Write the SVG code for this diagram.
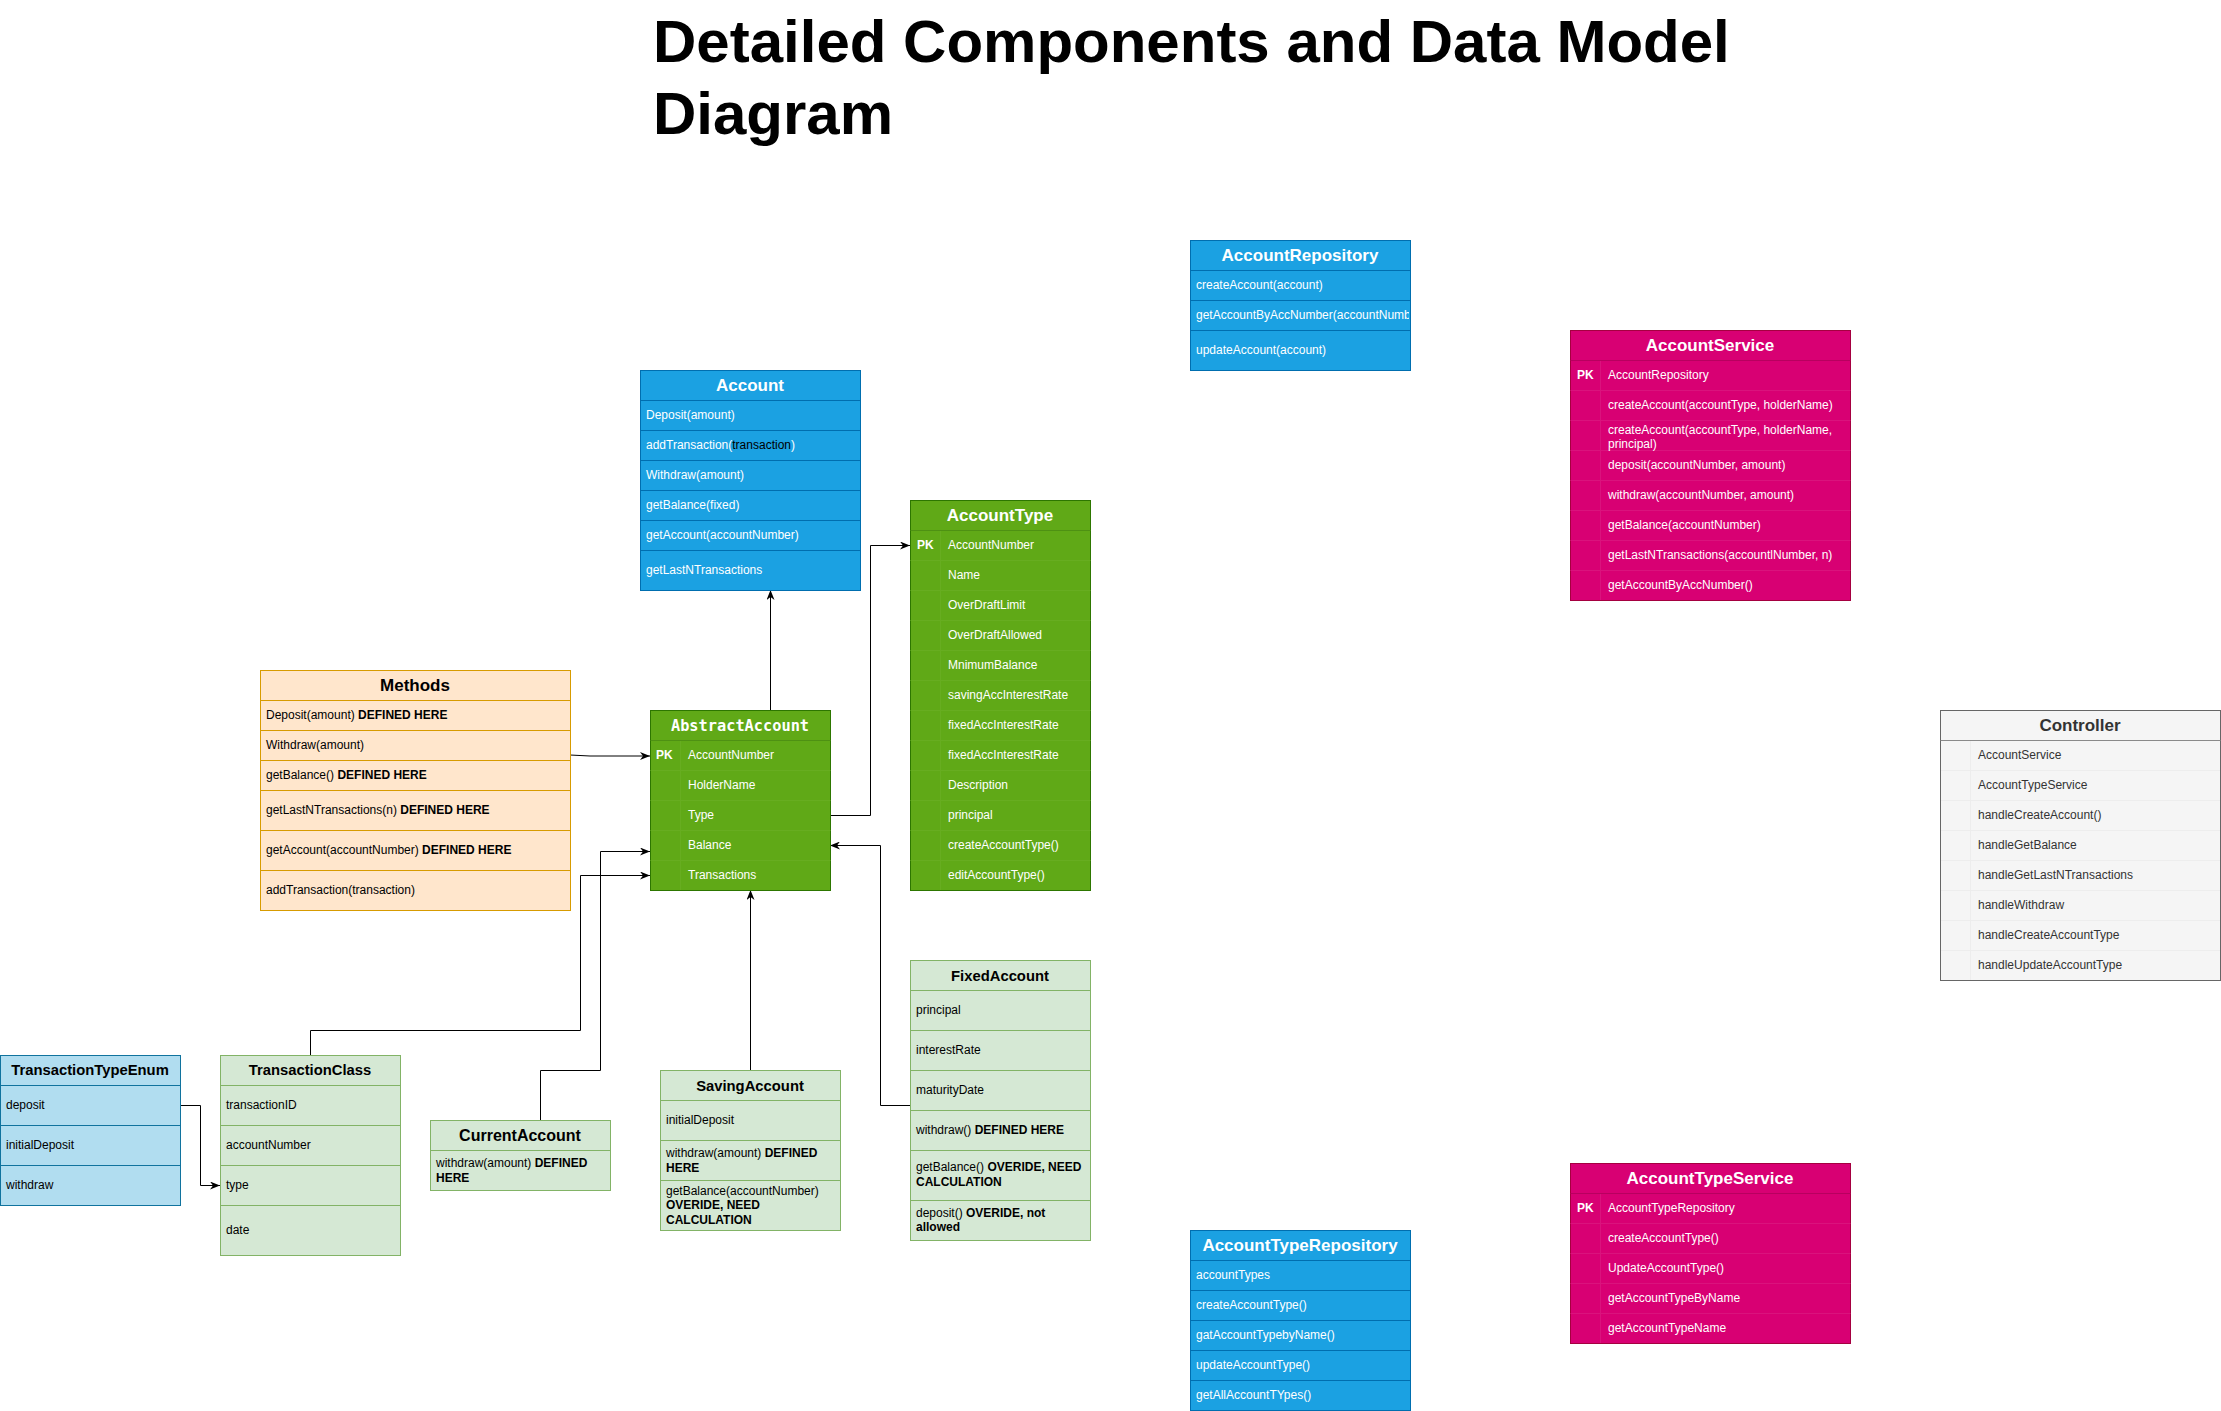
<svg xmlns="http://www.w3.org/2000/svg" width="2221" height="1411" viewBox="0 0 2221 1411">
<style>
text { font-family: "Liberation Sans", Arial, Helvetica, sans-serif; font-size: 12px; }
.w { fill: #ffffff; }
.k { fill: #000000; }
.g3 { fill: #333333; }
.b { font-weight: bold; }
.h17 { font-size: 17px; font-weight: bold; text-anchor: middle; }
.h16 { font-size: 16px; font-weight: bold; text-anchor: middle; }
.h15 { font-size: 14.8px; font-weight: bold; text-anchor: middle; }
.mono { font-family: "DejaVu Sans Mono", "Liberation Mono", monospace; font-size: 15.3px; font-weight: bold; text-anchor: middle; }
.blue { fill: #1ba1e2; stroke: #006eaf; stroke-width: 1; }
.bl { stroke: #006eaf; stroke-width: 1; }
.grn { fill: #60a917; stroke: #2d7600; stroke-width: 1; }
.gl { stroke: #67ad20; stroke-width: 1; }
.gh { stroke: #4e9113; stroke-width: 1; }
.org { fill: #ffe6cc; stroke: #d79b00; stroke-width: 1; }
.ol { stroke: #d79b00; stroke-width: 1; }
.lb { fill: #b1ddf0; stroke: #10739e; stroke-width: 1; }
.lbl { stroke: #10739e; stroke-width: 1; }
.lg { fill: #d5e8d4; stroke: #82b366; stroke-width: 1; }
.lgl { stroke: #82b366; stroke-width: 1; }
.mag { fill: #d80073; stroke: #a50040; stroke-width: 1; }
.ml { stroke: #da137d; stroke-width: 1; }
.mh { stroke: #b8005f; stroke-width: 1; }
.gry { fill: #f5f5f5; stroke: #666666; stroke-width: 1; }
.grl { stroke: #ededed; stroke-width: 1; }
.grh { stroke: #8a8a8a; stroke-width: 1; }
.conn { fill: none; stroke: #000000; stroke-width: 1; marker-end: url(#arr); }
.title { font-family: "Liberation Sans", Arial, Helvetica, sans-serif; font-size: 60px; font-weight: bold; fill: #000; }
</style>
<defs>
<marker id="arr" viewBox="0 0 10 8" refX="10" refY="4" markerWidth="10" markerHeight="8" markerUnits="userSpaceOnUse" orient="auto">
<path d="M0,0 L10,4 L0,8 L3,4 z" fill="#000000"/>
</marker>
<clipPath id="clipRepo"><rect x="1190" y="300" width="219" height="30"/></clipPath>
</defs>
<rect x="0" y="0" width="2221" height="1411" fill="#ffffff"/>

<g id="title">
<text class="title" x="653" y="62">Detailed Components and Data Model</text>
<text class="title" x="653" y="134">Diagram</text>
</g>

<g id="connectors">
<path class="conn" d="M770.5,710 V590"/>
<path class="conn" d="M830,815.5 H870.5 V545.5 H910"/>
<path class="conn" d="M570,755 L590,756 H650"/>
<path class="conn" d="M310.5,1055 V1030.5 H580.5 V875.5 H650"/>
<path class="conn" d="M540.5,1120 V1070.5 H600.5 V851.5 H650"/>
<path class="conn" d="M750.5,1070 V890"/>
<path class="conn" d="M910,1105.5 H880.5 V845.5 H830"/>
<path class="conn" d="M180,1105.5 H200.5 V1185.5 H220"/>
</g>

<g id="Account">
<rect class="blue" x="640.5" y="370.5" width="220" height="220"/>
<path class="bl" d="M640.5,400.5 H860.5 M640.5,430.5 H860.5 M640.5,460.5 H860.5 M640.5,490.5 H860.5 M640.5,520.5 H860.5 M640.5,550.5 H860.5"/>
<text class="h17 w" x="750" y="391">Account</text>
<text class="w" x="646" y="419">Deposit(amount)</text>
<text class="w" x="646" y="449">addTransaction(<tspan fill="#000000">transaction</tspan>)</text>
<text class="w" x="646" y="479">Withdraw(amount)</text>
<text class="w" x="646" y="509">getBalance(fixed)</text>
<text class="w" x="646" y="539">getAccount(accountNumber)</text>
<text class="w" x="646" y="574">getLastNTransactions</text>
</g>

<g id="AccountRepository">
<rect class="blue" x="1190.5" y="240.5" width="220" height="130"/>
<path class="bl" d="M1190.5,270.5 H1410.5 M1190.5,300.5 H1410.5 M1190.5,330.5 H1410.5"/>
<text class="h17 w" x="1300" y="261">AccountRepository</text>
<text class="w" x="1196" y="289">createAccount(account)</text>
<text class="w" x="1196" y="319" clip-path="url(#clipRepo)">getAccountByAccNumber(accountNumber)</text>
<text class="w" x="1196" y="354">updateAccount(account)</text>
</g>

<g id="AccountType">
<rect class="grn" x="910.5" y="500.5" width="180" height="390"/>
<path class="gl" d="M910.5,560.5 H1090.5 M910.5,590.5 H1090.5 M910.5,620.5 H1090.5 M910.5,650.5 H1090.5 M910.5,680.5 H1090.5 M910.5,710.5 H1090.5 M910.5,740.5 H1090.5 M910.5,770.5 H1090.5 M910.5,800.5 H1090.5 M910.5,830.5 H1090.5 M910.5,860.5 H1090.5 M940.5,531 V890"/>
<path class="gh" d="M910.5,530.5 H1090.5"/>
<text class="h17 w" x="1000" y="521">AccountType</text>
<text class="w b" x="917" y="549">PK</text>
<text class="w" x="948" y="549">AccountNumber</text>
<text class="w" x="948" y="579">Name</text>
<text class="w" x="948" y="609">OverDraftLimit</text>
<text class="w" x="948" y="639">OverDraftAllowed</text>
<text class="w" x="948" y="669">MnimumBalance</text>
<text class="w" x="948" y="699">savingAccInterestRate</text>
<text class="w" x="948" y="729">fixedAccInterestRate</text>
<text class="w" x="948" y="759">fixedAccInterestRate</text>
<text class="w" x="948" y="789">Description</text>
<text class="w" x="948" y="819">principal</text>
<text class="w" x="948" y="849">createAccountType()</text>
<text class="w" x="948" y="879">editAccountType()</text>
</g>

<g id="AbstractAccount">
<rect class="grn" x="650.5" y="710.5" width="180" height="180"/>
<path class="gl" d="M650.5,770.5 H830.5 M650.5,800.5 H830.5 M650.5,830.5 H830.5 M650.5,860.5 H830.5 M680.5,741 V890"/>
<path class="gh" d="M650.5,740.5 H830.5"/>
<text class="mono w" x="740" y="731">AbstractAccount</text>
<text class="w b" x="656" y="759">PK</text>
<text class="w" x="688" y="759">AccountNumber</text>
<text class="w" x="688" y="789">HolderName</text>
<text class="w" x="688" y="819">Type</text>
<text class="w" x="688" y="849">Balance</text>
<text class="w" x="688" y="879">Transactions</text>
</g>

<g id="Methods">
<rect class="org" x="260.5" y="670.5" width="310" height="240"/>
<path class="ol" d="M260.5,700.5 H570.5 M260.5,730.5 H570.5 M260.5,760.5 H570.5 M260.5,790.5 H570.5 M260.5,830.5 H570.5 M260.5,870.5 H570.5"/>
<text class="h17 k" x="415" y="691">Methods</text>
<text class="k" x="266" y="719">Deposit(amount) <tspan class="b">DEFINED HERE</tspan></text>
<text class="k" x="266" y="749">Withdraw(amount)</text>
<text class="k" x="266" y="779">getBalance() <tspan class="b">DEFINED HERE</tspan></text>
<text class="k" x="266" y="814">getLastNTransactions(n) <tspan class="b">DEFINED HERE</tspan></text>
<text class="k" x="266" y="854">getAccount(accountNumber) <tspan class="b">DEFINED HERE</tspan></text>
<text class="k" x="266" y="894">addTransaction(transaction)</text>
</g>

<g id="TransactionTypeEnum">
<rect class="lb" x="0.5" y="1055.5" width="180" height="150"/>
<path class="lbl" d="M0.5,1085.5 H180.5 M0.5,1125.5 H180.5 M0.5,1165.5 H180.5"/>
<text class="h15 k" x="90" y="1075">TransactionTypeEnum</text>
<text class="k" x="6" y="1109">deposit</text>
<text class="k" x="6" y="1149">initialDeposit</text>
<text class="k" x="6" y="1189">withdraw</text>
</g>

<g id="TransactionClass">
<rect class="lg" x="220.5" y="1055.5" width="180" height="200"/>
<path class="lgl" d="M220.5,1085.5 H400.5 M220.5,1125.5 H400.5 M220.5,1165.5 H400.5 M220.5,1205.5 H400.5"/>
<text class="h15 k" x="310" y="1075">TransactionClass</text>
<text class="k" x="226" y="1109">transactionID</text>
<text class="k" x="226" y="1149">accountNumber</text>
<text class="k" x="226" y="1189">type</text>
<text class="k" x="226" y="1234">date</text>
</g>

<g id="CurrentAccount">
<rect class="lg" x="430.5" y="1120.5" width="180" height="70"/>
<path class="lgl" d="M430.5,1150.5 H610.5"/>
<text class="h16 k" x="520" y="1141">CurrentAccount</text>
<text class="k" x="436" y="1167">withdraw(amount) <tspan class="b">DEFINED</tspan></text>
<text class="k b" x="436" y="1182">HERE</text>
</g>

<g id="SavingAccount">
<rect class="lg" x="660.5" y="1070.5" width="180" height="160"/>
<path class="lgl" d="M660.5,1100.5 H840.5 M660.5,1140.5 H840.5 M660.5,1180.5 H840.5"/>
<text class="h15 k" x="750" y="1091">SavingAccount</text>
<text class="k" x="666" y="1124">initialDeposit</text>
<text class="k" x="666" y="1157">withdraw(amount) <tspan class="b">DEFINED</tspan></text>
<text class="k b" x="666" y="1172">HERE</text>
<text class="k" x="666" y="1195">getBalance(accountNumber)</text>
<text class="k b" x="666" y="1209">OVERIDE, NEED</text>
<text class="k b" x="666" y="1224">CALCULATION</text>
</g>

<g id="FixedAccount">
<rect class="lg" x="910.5" y="960.5" width="180" height="280"/>
<path class="lgl" d="M910.5,990.5 H1090.5 M910.5,1030.5 H1090.5 M910.5,1070.5 H1090.5 M910.5,1110.5 H1090.5 M910.5,1150.5 H1090.5 M910.5,1200.5 H1090.5"/>
<text class="h15 k" x="1000" y="981">FixedAccount</text>
<text class="k" x="916" y="1014">principal</text>
<text class="k" x="916" y="1054">interestRate</text>
<text class="k" x="916" y="1094">maturityDate</text>
<text class="k" x="916" y="1134">withdraw() <tspan class="b">DEFINED HERE</tspan></text>
<text class="k" x="916" y="1171">getBalance() <tspan class="b">OVERIDE, NEED</tspan></text>
<text class="k b" x="916" y="1186">CALCULATION</text>
<text class="k" x="916" y="1217">deposit() <tspan class="b">OVERIDE, not</tspan></text>
<text class="k b" x="916" y="1231">allowed</text>
</g>

<g id="AccountService">
<rect class="mag" x="1570.5" y="330.5" width="280" height="270"/>
<path class="ml" d="M1570.5,390.5 H1850.5 M1570.5,420.5 H1850.5 M1570.5,450.5 H1850.5 M1570.5,480.5 H1850.5 M1570.5,510.5 H1850.5 M1570.5,540.5 H1850.5 M1570.5,570.5 H1850.5 M1600.5,361 V600"/>
<path class="mh" d="M1570.5,360.5 H1850.5"/>
<text class="h17 w" x="1710" y="351">AccountService</text>
<text class="w b" x="1577" y="379">PK</text>
<text class="w" x="1608" y="379">AccountRepository</text>
<text class="w" x="1608" y="409">createAccount(accountType, holderName)</text>
<text class="w" x="1608" y="434">createAccount(accountType, holderName,</text>
<text class="w" x="1608" y="448">principal)</text>
<text class="w" x="1608" y="469">deposit(accountNumber, amount)</text>
<text class="w" x="1608" y="499">withdraw(accountNumber, amount)</text>
<text class="w" x="1608" y="529">getBalance(accountNumber)</text>
<text class="w" x="1608" y="559">getLastNTransactions(accountlNumber, n)</text>
<text class="w" x="1608" y="589">getAccountByAccNumber()</text>
</g>

<g id="Controller">
<rect class="gry" x="1940.5" y="710.5" width="280" height="270"/>
<path class="grl" d="M1941,770.5 H2220 M1941,800.5 H2220 M1941,830.5 H2220 M1941,860.5 H2220 M1941,890.5 H2220 M1941,920.5 H2220 M1941,950.5 H2220 M1970.5,741 V980"/>
<path class="grh" d="M1940.5,740.5 H2220.5"/>
<text class="h17 g3" x="2080" y="731">Controller</text>
<text class="g3" x="1978" y="759">AccountService</text>
<text class="g3" x="1978" y="789">AccountTypeService</text>
<text class="g3" x="1978" y="819">handleCreateAccount()</text>
<text class="g3" x="1978" y="849">handleGetBalance</text>
<text class="g3" x="1978" y="879">handleGetLastNTransactions</text>
<text class="g3" x="1978" y="909">handleWithdraw</text>
<text class="g3" x="1978" y="939">handleCreateAccountType</text>
<text class="g3" x="1978" y="969">handleUpdateAccountType</text>
</g>

<g id="AccountTypeRepository">
<rect class="blue" x="1190.5" y="1230.5" width="220" height="180"/>
<path class="bl" d="M1190.5,1260.5 H1410.5 M1190.5,1290.5 H1410.5 M1190.5,1320.5 H1410.5 M1190.5,1350.5 H1410.5 M1190.5,1380.5 H1410.5"/>
<text class="h17 w" x="1300" y="1251">AccountTypeRepository</text>
<text class="w" x="1196" y="1279">accountTypes</text>
<text class="w" x="1196" y="1309">createAccountType()</text>
<text class="w" x="1196" y="1339">gatAccountTypebyName()</text>
<text class="w" x="1196" y="1369">updateAccountType()</text>
<text class="w" x="1196" y="1399">getAllAccountTYpes()</text>
</g>

<g id="AccountTypeService">
<rect class="mag" x="1570.5" y="1163.5" width="280" height="180"/>
<path class="ml" d="M1570.5,1223.5 H1850.5 M1570.5,1253.5 H1850.5 M1570.5,1283.5 H1850.5 M1570.5,1313.5 H1850.5 M1600.5,1194 V1343"/>
<path class="mh" d="M1570.5,1193.5 H1850.5"/>
<text class="h17 w" x="1710" y="1184">AccountTypeService</text>
<text class="w b" x="1577" y="1212">PK</text>
<text class="w" x="1608" y="1212">AccountTypeRepository</text>
<text class="w" x="1608" y="1242">createAccountType()</text>
<text class="w" x="1608" y="1272">UpdateAccountType()</text>
<text class="w" x="1608" y="1302">getAccountTypeByName</text>
<text class="w" x="1608" y="1332">getAccountTypeName</text>
</g>
</svg>
